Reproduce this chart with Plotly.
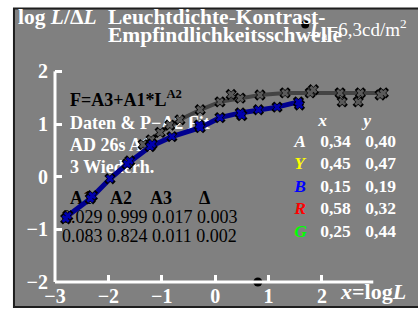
import math
import plotly.graph_objects as go

# ---------------- data ----------------
blue_x = [-2.76, -2.34, -1.97, -1.65, -1.22, -0.81, -0.28, 0.09, 0.47, 0.81, 1.16, 1.56]
blue_y = [-0.74, -0.42, -0.04, 0.24, 0.57, 0.76, 0.93, 1.12, 1.21, 1.27, 1.32, 1.42]
blue_rep_x = [-2.80, -2.30, -1.60, -1.18, -0.30, 0.50, 1.58]
blue_rep_y = [-0.80, -0.36, 0.30, 0.62, 0.98, 1.16, 1.36]

gray_x = [-1.35, -1.03, -0.66, -0.28, 0.09, 0.47, 0.84, 1.31, 1.78, 2.34, 2.72, 3.15]
gray_y = [0.61, 0.84, 1.08, 1.27, 1.42, 1.49, 1.55, 1.59, 1.59, 1.59, 1.59, 1.59]
gray_rep_x = [-1.20, -0.85, 0.30, 1.84, 2.38, 2.68, 3.09]
gray_rep_y = [0.70, 0.98, 1.56, 1.65, 1.42, 1.42, 1.55]

x_ticks = [-3, -2, -1, 0, 1, 2]
y_ticks = [-2, -1, 0, 1, 2]
adapt_lum = 6.3  # cd/m2

coef_header = ["A1", "A2", "A3", "Δ"]
coef_rows = [["0.029", "0.999", "0.017", "0.003"],
             ["0.083", "0.824", "0.011", "0.002"]]
chrom_labels = ["A", "Y", "B", "R", "G"]
chrom_x = ["0,34", "0,45", "0,15", "0,58", "0,25"]
chrom_y = ["0,40", "0,47", "0,19", "0,32", "0,44"]
chrom_colors = ["#ffffff", "#ffff00", "#0000ff", "#ff0000", "#00ff00"]

# ---------------- geometry ----------------
W, H = 418, 311
ML, MR, MT, MB = 55, 16.3, 44.6, 29
PW = W - ML - MR
PH = H - MT - MB
XR = [-3, 3.5]
YR = [-2, 2.5]
SERIF = "Liberation Serif"


def px_x(px):
    return XR[0] + (px - ML) / PW * (XR[1] - XR[0])


def px_y(py):
    return YR[0] + (MT + PH - py) / PH * (YR[1] - YR[0])


def pp_x(px):
    return (px - ML) / PW


def pp_y(py):
    return (MT + PH - py) / PH


fig = go.Figure()


def text_trace(px, py, txt, size, color, bold=False):
    t = f"<b>{txt}</b>" if bold else txt
    fig.add_trace(go.Scatter(x=[px_x(px)], y=[px_y(py)], mode="text", text=[t],
                             textposition="middle right", cliponaxis=False,
                             textfont=dict(family=SERIF, size=size, color=color),
                             hoverinfo="skip", showlegend=False))


# text block drawn under the curves
text_trace(70, 101, "F=A3+A1*L<sup>A2</sup>", 18, "#000000", True)
text_trace(70, 124, "Daten & P−A2 Fit", 18, "#ffffff", True)
text_trace(70, 146, "AD 26s A1", 18, "#ffffff", True)
text_trace(70, 168, "3 Wiederh.", 18, "#ffffff", True)
for hx, h in zip([70, 110, 150, 199], coef_header):
    text_trace(hx, 199, h, 18, "#000000", True)
for ry, row in zip([218, 237], coef_rows):
    text_trace(62, ry, " ".join(row), 18, "#000000")

text_trace(318, 121, "<i>x</i>", 17.5, "#ffffff", True)
text_trace(363, 121, "<i>y</i>", 17.5, "#ffffff", True)
for i, (lab, cx, cy, col) in enumerate(zip(chrom_labels, chrom_x, chrom_y, chrom_colors)):
    yy = 142 + i * 22.6
    text_trace(294, yy, f"<i>{lab}</i>", 17.5, col, True)
    text_trace(320, yy, cx, 17.5, "#ffffff", True)
    text_trace(365, yy, cy, 17.5, "#ffffff", True)


def curve(xs, ys, rx, ry, lcol, mcol, lw):
    fig.add_trace(go.Scatter(x=xs, y=ys, mode="lines", line=dict(color=lcol, width=lw),
                             hoverinfo="skip", showlegend=False))
    allx = xs + rx
    ally = ys + ry
    fig.add_trace(go.Scatter(x=allx, y=ally, mode="markers", cliponaxis=False,
                             marker=dict(symbol="x", size=10, color="#000000"),
                             hoverinfo="skip", showlegend=False))
    fig.add_trace(go.Scatter(x=allx, y=ally, mode="markers", cliponaxis=False,
                             marker=dict(symbol="x", size=7, color=mcol),
                             hoverinfo="skip", showlegend=False))


curve(gray_x, gray_y, gray_rep_x, gray_rep_y, "#444444", "#5a5a5a", 4)
curve(blue_x, blue_y, blue_rep_x, blue_rep_y, "#000090", "#0000b0", 5)

# adaptation marker on the axis
fig.add_trace(go.Scatter(x=[math.log10(adapt_lum)], y=[YR[0]], mode="markers", cliponaxis=False,
                         marker=dict(size=9, color="#000000"), hoverinfo="skip", showlegend=False))

shapes = [
    dict(type="rect", xref="paper", yref="paper", x0=pp_x(14), x1=pp_x(422), y0=pp_y(307), y1=pp_y(8),
         fillcolor="#808080", line=dict(color="#1e1e1e", width=2), layer="below"),
    dict(type="line", xref="paper", yref="paper", x0=pp_x(55), x1=pp_x(373), y0=0, y1=0,
         line=dict(color="#ffffff", width=3), layer="above"),
    dict(type="line", xref="paper", yref="paper", x0=0, x1=0, y0=0, y1=pp_y(71),
         line=dict(color="#ffffff", width=3), layer="above"),
    dict(type="circle", xref="paper", yref="paper", x0=pp_x(301), x1=pp_x(309), y0=pp_y(28), y1=pp_y(20),
         fillcolor="#000000", line=dict(color="#000000", width=0)),
]

annotations = [
    dict(x=pp_x(16), y=pp_y(17), text="<b>log <i>L</i>/Δ<i>L</i></b>", font=dict(size=21.5)),
    dict(x=pp_x(106), y=pp_y(17), text="<b>Leuchtdichte-Kontrast-</b>", font=dict(size=21.5)),
    dict(x=pp_x(106), y=pp_y(35), text="<b>Empfindlichkeitsschwelle</b>", font=dict(size=21.5)),
    dict(x=pp_x(307), y=pp_y(29), text="<b><i>L</i></b><sub>a</sub>=6,3cd/m<sup>2</sup>", font=dict(size=19)),
    dict(x=pp_x(338), y=pp_y(292), text="<b><i>x</i>=log<i>L</i></b>", font=dict(size=22)),
]
for a in annotations:
    a.update(xref="paper", yref="paper", xanchor="left", yanchor="middle", showarrow=False)
    a["font"].update(family=SERIF, color="#ffffff")

fig.update_layout(
    template="none",
    width=W, height=H, autosize=False,
    margin=dict(l=ML, r=MR, t=MT, b=MB, pad=0),
    paper_bgcolor="#ffffff", plot_bgcolor="rgba(0,0,0,0)",
    shapes=shapes, annotations=annotations, showlegend=False,
    xaxis=dict(range=XR, tickmode="array", tickvals=x_ticks, automargin=False,
               ticktext=[f"<b>{t}</b>".replace("-", "−") for t in x_ticks],
               ticks="inside", ticklen=7, tickwidth=3, tickcolor="#ffffff",
               showgrid=False, zeroline=False, showline=False,
               tickfont=dict(family=SERIF, size=20, color="#ffffff")),
    yaxis=dict(range=YR, tickmode="array", tickvals=y_ticks, automargin=False,
               ticktext=[f"<b>{t}</b>".replace("-", "−") for t in y_ticks],
               ticks="inside", ticklen=7, tickwidth=3, tickcolor="#ffffff",
               ticklabelstandoff=6,
               showgrid=False, zeroline=False, showline=False,
               tickfont=dict(family=SERIF, size=20, color="#ffffff")),
)

fig.write_html("out.html", config={"displayModeBar": False},
               post_script="document.body.style.margin='0';document.body.style.padding='0';"
                           "document.body.style.overflow='hidden';")
